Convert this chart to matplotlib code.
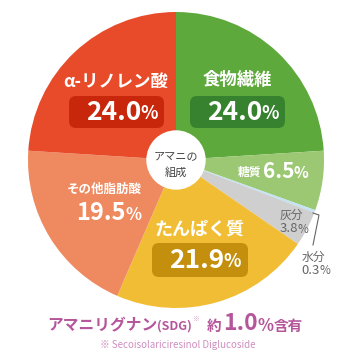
import matplotlib
matplotlib.use('Agg')
import matplotlib.pyplot as plt
from matplotlib.patches import FancyBboxPatch, Circle

plt.rcParams['font.family'] = ['Noto Sans CJK JP', 'DejaVu Sans']

# composition of flaxseed (clockwise from top)
labels = ['食物繊維', '糖質', '水分', '灰分', 'たんぱく質', 'その他脂肪酸', 'α-リノレン酸']
values = [24.0, 6.5, 0.3, 3.8, 21.9, 19.5, 24.0]
colors = ['#5ea93b', '#9cc873', '#c3e3f3', '#cfcfcf', '#f1bd35', '#ef895f', '#e84b29']
lignan_pct = 1.0

W = H = 360
fig = plt.figure(figsize=(3.6, 3.6), dpi=100)
ax = fig.add_axes([0, 0, 1, 1])

def Y(y):
    return H - y

cx, cy, R = 176, 160, 148
ax.pie(values, colors=colors, startangle=90, counterclock=False,
       center=(cx, Y(cy)), radius=R, wedgeprops=dict(linewidth=0))
ax.set_xlim(0, W)
ax.set_ylim(0, H)
ax.set_aspect('equal')
ax.axis('off')

# centre circle
ax.add_patch(Circle((cx, Y(cy)), 29, color='white', zorder=3))
ax.text(cx, Y(156), 'アマニの', ha='center', va='center', fontsize=8, color='#444444', zorder=4)
ax.text(cx, Y(172), '組成', ha='center', va='center', fontsize=8, color='#444444', zorder=4)


def box(x0, y0, x1, y1, fc):
    ax.add_patch(FancyBboxPatch((x0, Y(y1)), x1 - x0, y1 - y0,
                                boxstyle='round,pad=0,rounding_size=7',
                                fc=fc, ec='none', zorder=3))


def pct(x, y, v, size, psize, color='white', weight='bold'):
    # number right-aligned at x, '%' left-aligned after it
    ax.text(x, Y(y), f'{v:.1f}', ha='right', va='center', fontsize=size,
            color=color, fontweight=weight, zorder=4)
    ax.text(x - 1, Y(y) - size * 0.1, '%', ha='left', va='center', fontsize=psize,
            color=color, fontweight=weight, zorder=4)


# α-リノレン酸
ax.text(116, Y(82), labels[6], ha='center', va='center', fontsize=12.5,
        color='white', fontweight='bold')
box(69, 96, 164, 128, '#c9270c')
pct(141, 112, values[6], 19, 13)

# 食物繊維
ax.text(237, Y(80), labels[0], ha='center', va='center', fontsize=12.5,
        color='white', fontweight='bold')
box(190, 96, 285, 128, '#37822f')
pct(262, 112, values[0], 19, 13)

# 糖質
ax.text(250, Y(172), labels[1], ha='center', va='center', fontsize=8.5,
        color='white', fontweight='bold')
pct(295, 172, values[1], 15, 11)

# 灰分
ax.text(291, Y(215), labels[3], ha='center', va='center', fontsize=8.5,
        color='#666666')
pct(298, 229, values[3], 9.5, 8.5, color='#666666', weight='normal')

# 水分 with leader line
ax.plot([313, 319, 313], [Y(213), Y(215), Y(245)], color='#666666', lw=0.8)
ax.text(313, Y(257), labels[2], ha='center', va='center', fontsize=8.5,
        color='#666666')
pct(320, 270, values[2], 9.5, 8.5, color='#666666', weight='normal')

# たんぱく質
ax.text(199, Y(229), labels[4], ha='center', va='center', fontsize=13,
        color='white', fontweight='bold')
box(152, 243, 248, 277, '#c48f0c')
pct(224, 260, values[4], 19, 13)

# その他脂肪酸
ax.text(104, Y(189), labels[5], ha='center', va='center', fontsize=9,
        color='white', fontweight='bold')
pct(126, 213, values[5], 17, 12)

# bottom note
pc = '#b5569b'
ax.text(47, Y(325), 'アマニリグナン', ha='left', va='center', fontsize=11.3,
        color=pc, fontweight='bold')
ax.text(157, Y(326), '(SDG)', ha='left', va='center', fontsize=9,
        color=pc, fontweight='bold')
ax.text(192, Y(319), '※', ha='left', va='center', fontsize=5, color='#d99cc8')
ax.text(207, Y(326), '約', ha='left', va='center', fontsize=10.5,
        color=pc, fontweight='bold')
ax.text(258, Y(323), f'{lignan_pct:.1f}', ha='right', va='center', fontsize=16.5,
        color=pc, fontweight='bold')
ax.text(257, Y(326), '%', ha='left', va='center', fontsize=12,
        color=pc, fontweight='bold')
ax.text(274, Y(326), '含有', ha='left', va='center', fontsize=10.5,
        color=pc, fontweight='bold')
ax.text(178, Y(345), '※ Secoisolariciresinol Diglucoside', ha='center', va='center',
        fontsize=7, color='#cf8ebf')

fig.savefig('out.png', dpi=100, facecolor='white')
